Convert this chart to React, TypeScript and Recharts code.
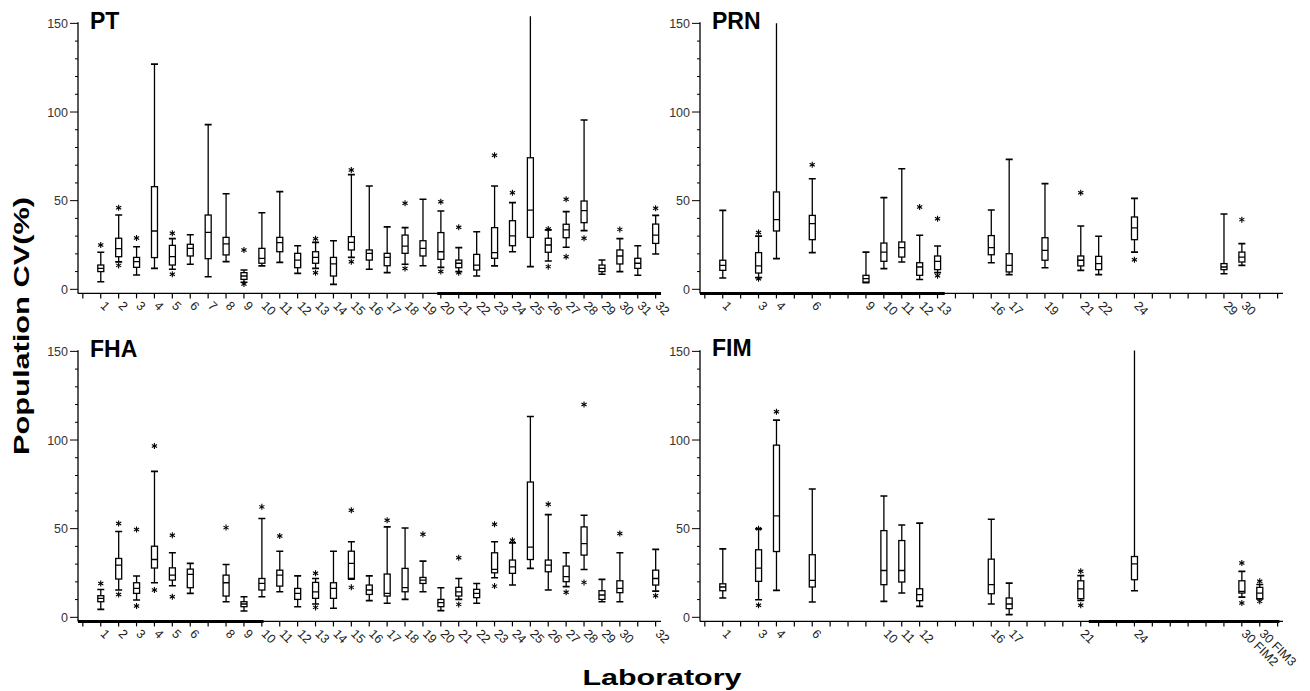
import React from 'react';
import { ComposedChart, Bar, Scatter, XAxis, YAxis, ReferenceLine } from 'recharts';

// box rows: [lab position, whisker low, q1, median, q3, whisker high]
const ptBoxes = [
  [1, 4.3, 10, 11.8, 13.7, 20.9],
  [2, 15.5, 18.4, 23, 28.8, 41.9],
  [3, 8.1, 12.4, 15.6, 18, 24],
  [4, 11.8, 17.9, 32.9, 57.9, 127],
  [5, 11.3, 13.7, 18.4, 24.8, 28.6],
  [6, 14.1, 18.8, 23.1, 25.4, 30.8],
  [7, 7.1, 17.3, 32.1, 41.9, 92.9],
  [8, 15.6, 19.4, 25.6, 29.3, 53.9],
  [9, 4, 5.6, 7.5, 9.4, 10.9],
  [10, 13.2, 14.7, 17.5, 23.1, 43.2],
  [11, 15.2, 21.2, 26.3, 29.3, 55.1],
  [12, 9, 12.2, 16.5, 20.3, 24.6],
  [13, 11.8, 14.7, 18, 21.2, 26.5],
  [14, 2.8, 7.5, 14.3, 18, 27.4],
  [15, 18, 22.2, 26.5, 29.7, 64.7],
  [16, 11.3, 16.5, 20.3, 22.2, 58.3],
  [17, 9.4, 13.3, 18, 20.3, 35.2],
  [18, 14.1, 20.3, 24.4, 30.6, 34.8],
  [19, 13.3, 18.8, 23.1, 27.4, 50.8],
  [20, 12.4, 16.9, 21.2, 32, 44.2],
  [21, 10, 12.2, 14.7, 16.5, 23.5],
  [22, 7.5, 10.9, 13.7, 19.7, 32.5],
  [23, 13.2, 17.5, 20.7, 34.8, 58.3],
  [24, 21.2, 24.6, 30.1, 38.7, 48.9],
  [25, 12.8, 29.3, 44.7, 74.2, 154],
  [26, 16, 20.9, 25, 28.8, 33.5],
  [27, 23.7, 29.1, 33.5, 36.7, 43.8],
  [28, 33.1, 37.6, 44.4, 49.8, 95.5],
  [29, 8.5, 10, 11.8, 13.7, 16.5],
  [30, 10, 14.3, 18.8, 22.2, 28.6],
  [31, 7.9, 11.8, 14.7, 17.5, 24.6],
  [32, 19.9, 25.9, 30.6, 36.8, 41.7],
];
const ptOutliers = [
  [1, 25], [2, 46], [2, 13.5], [3, 29], [5, 31.6], [5, 8.5], [9, 22.2], [9, 3],
  [13, 28.5], [13, 9.4], [15, 67.3], [15, 15.6], [18, 48.5], [18, 11.8], [20, 49.4],
  [20, 10], [21, 35], [21, 9.4], [23, 75.6], [24, 54.5], [26, 34], [26, 12.8],
  [27, 50.8], [27, 18.4], [28, 28.8], [30, 33.8], [32, 45.7],
];

const prnBoxes = [
  [1, 6.4, 10.7, 13.5, 16.4, 44.5],
  [3, 6.6, 9.2, 13.2, 20.7, 30],
  [4, 17.3, 32.9, 39.3, 54.9, 150],
  [6, 20.7, 28, 37, 41.7, 62.4],
  [9, 3.8, 4.1, 6, 7.9, 21],
  [10, 11.7, 15.8, 21, 26.1, 51.7],
  [11, 15.4, 18.2, 23.5, 26.7, 68],
  [12, 5.5, 7.9, 12.6, 15, 30.5],
  [13, 9.4, 11.1, 15.8, 18.8, 24.4],
  [16, 15, 19.5, 23.5, 30.3, 44.7],
  [17, 8.3, 9.8, 13.5, 20.1, 73.3],
  [19, 12.2, 16.4, 22, 29.1, 59.6],
  [21, 10.7, 13.2, 16.4, 18.8, 35.7],
  [22, 8.3, 11.1, 14.5, 18.6, 29.9],
  [24, 21, 28, 34.6, 40.8, 51.3],
  [29, 8.8, 11.1, 12.6, 14.5, 42.5],
  [30, 13.5, 15.4, 18.2, 21, 25.8],
];
const prnOutliers = [
  [3, 32], [3, 6], [6, 70.3], [12, 46.4], [13, 39.8], [13, 7.7], [21, 54.5], [24, 16.7], [30, 39.3],
];

const fhaBoxes = [
  [1, 4.5, 8.8, 10.7, 12.2, 15.7],
  [2, 15.4, 21.6, 29.4, 33.2, 48.4],
  [3, 9.8, 13.5, 16.3, 19.5, 23.3],
  [4, 19.5, 27.8, 32.6, 40.1, 82.3],
  [5, 17.8, 21, 23.8, 27.9, 36.4],
  [6, 13.5, 16.7, 24.2, 27.2, 30.4],
  [8, 8.8, 12, 19.5, 23.8, 29.8],
  [9, 3.6, 6, 7.5, 8.8, 11.6],
  [10, 11.6, 15.4, 19.1, 21.9, 55.7],
  [11, 14.4, 17.6, 23.8, 26.6, 37.3],
  [12, 6, 10.1, 13.5, 16.3, 23.4],
  [13, 7.5, 10.7, 14.4, 19.7, 21.9],
  [14, 5.1, 10.7, 16.3, 19.5, 37.3],
  [15, 21.5, 22, 30.4, 37.3, 42.6],
  [16, 9.4, 12.9, 15.4, 18.2, 23.4],
  [17, 7.9, 12, 13.5, 24.4, 51],
  [18, 10.1, 14.4, 16.7, 27.6, 50.4],
  [19, 14.4, 19.1, 21, 22.5, 31.7],
  [20, 3.8, 6, 8.3, 10.1, 16.7],
  [21, 10.1, 12, 14.4, 16.9, 21.9],
  [22, 7.9, 11.1, 13.5, 15.8, 19.1],
  [23, 22.3, 25.1, 27, 36.4, 42.6],
  [24, 18.2, 24.8, 28.5, 32.3, 42],
  [25, 27.6, 32.6, 39.6, 76.3, 113.3],
  [26, 15.4, 25.7, 29.4, 32.3, 57.9],
  [27, 17.3, 20.1, 22.9, 28.9, 36.4],
  [28, 27, 35.1, 41.6, 51, 57.6],
  [29, 8.8, 10.1, 12.6, 15, 21.4],
  [30, 8.8, 13.9, 16.3, 20.6, 36.4],
  [32, 14.8, 18.2, 21.9, 26.6, 38.3],
];
const fhaOutliers = [
  [1, 19.1], [2, 52.9], [2, 12.9], [3, 49.5], [3, 6.4], [4, 96.6], [4, 15.4], [5, 46.3],
  [5, 11.6], [8, 50.6], [10, 62.3], [11, 45.9], [13, 24.8], [13, 5.6], [15, 60.4],
  [15, 16.9], [17, 54.8], [19, 46.9], [21, 33.6], [21, 7.3], [23, 52.5], [23, 17.6],
  [24, 43.5], [26, 63.8], [27, 14.1], [28, 120], [28, 19.7], [30, 47.3], [32, 12.2],
];

const fimBoxes = [
  [1, 10.9, 15, 17.1, 18.9, 38.6],
  [3, 9.9, 20.3, 27.8, 38.1, 49.9],
  [4, 15.2, 37.1, 57.2, 97.1, 111.2],
  [6, 8.6, 17.1, 20.8, 35.3, 72.4],
  [10, 9, 18.4, 26.4, 48.9, 68.4],
  [11, 13.7, 19.9, 26.4, 43.3, 52.1],
  [12, 6.2, 9.4, 12.8, 16.1, 53.1],
  [16, 7.5, 13.3, 18.4, 32.8, 55.3],
  [17, 1.5, 4.9, 7.5, 10.9, 19.3],
  [21, 9.5, 10.5, 16.1, 20.6, 23.5],
  [24, 15, 21.2, 30.2, 34.3, 150.5],
  [30, 11.4, 13.7, 14.6, 20.6, 25.9],
  [31, 10.3, 10.5, 13.7, 16.9, 18.5],
];
const fimOutliers = [
  [3, 50], [3, 6.8], [4, 115.9], [21, 26], [21, 6.8], [30, 30.6], [30, 8.1], [31, 20.3], [31, 9],
];
// tick label text for positions that are not plain lab numbers
const fimTickNames: Record<number, string> = { 30: '30 FIM2', 31: '30 FIM3' };

const allTicks = Array.from({ length: 33 }, (_, i) => i);
const yTicks = [0, 10, 20, 30, 40, 50, 60, 70, 80, 90, 100, 110, 120, 130, 140, 150];

const X_MIN = -0.27;
const X_MAX = 32.3;
const Y_MIN = -2.3;
const Y_MAX = 155;
const FONT = '"Liberation Sans", Arial, sans-serif';

const BoxShape = (props: any) => {
  const { x, y, width, height, payload } = props;
  if (x == null || y == null || !payload) return null;
  const top = Math.min(y, y + height);
  const bot = Math.max(y, y + height);
  const span = payload.hi - payload.lo;
  const py = (v: number) => bot - ((v - payload.lo) / span) * (bot - top);
  const cx = x + width / 2;
  const bw = 3;
  const cw = 3.5;
  return (
    <g stroke="#000" strokeWidth={1.3} fill="#fff">
      <line x1={cx} x2={cx} y1={py(payload.hi)} y2={py(payload.q3)} />
      <line x1={cx} x2={cx} y1={py(payload.q1)} y2={py(payload.lo)} />
      {payload.hi < 150 && (
        <line x1={cx - cw} x2={cx + cw} y1={py(payload.hi)} y2={py(payload.hi)} strokeWidth={1.6} />
      )}
      <line x1={cx - cw} x2={cx + cw} y1={py(payload.lo)} y2={py(payload.lo)} strokeWidth={1.6} />
      <rect x={cx - bw} y={py(payload.q3)} width={bw * 2} height={py(payload.q1) - py(payload.q3)} />
      <line x1={cx - bw} x2={cx + bw} y1={py(payload.med)} y2={py(payload.med)} />
    </g>
  );
};

const StarShape = (props: any) => {
  const { cx, cy } = props;
  if (cx == null || cy == null) return null;
  const r = 3;
  return (
    <g stroke="#000" strokeWidth={1.1}>
      <line x1={cx} y1={cy - r} x2={cx} y2={cy + r} />
      <line x1={cx - 2.6} y1={cy - 1.5} x2={cx + 2.6} y2={cy + 1.5} />
      <line x1={cx - 2.6} y1={cy + 1.5} x2={cx + 2.6} y2={cy - 1.5} />
    </g>
  );
};

const YTick = (props: any) => {
  const { x, y, payload } = props;
  const major = payload.value % 50 === 0;
  return (
    <g>
      <line x1={x - (major ? 8 : 3)} x2={x} y1={y} y2={y} stroke="#000" strokeWidth={1} />
      {major && (
        <text x={x - 10} y={y + 4.5} textAnchor="end" fontSize={12.5} fontFamily={FONT} fill="#333">
          {payload.value}
        </text>
      )}
    </g>
  );
};

const makeXTick = (present: Set<number>, names: Record<number, string>) => (props: any) => {
  const { x, y, payload } = props;
  const v = payload.value;
  if (!present.has(v)) return null;
  const label = names[v] ?? String(v);
  return (
    <g transform={`translate(${x - 1},${y + 8})`}>
      <text transform="rotate(45)" textAnchor="start" fontSize={12.5} fontFamily={FONT} fill="#222">
        {label}
      </text>
    </g>
  );
};

type PanelProps = {
  left: number;
  top: number;
  boxes: number[][];
  outliers: number[][];
  names?: Record<number, string>;
  thick: [number, number];
};

const Panel = ({ left, top, boxes, outliers, names = {}, thick }: PanelProps) => {
  const data = boxes.map(([pos, lo, q1, med, q3, hi]) => ({ pos, lo, q1, med, q3, hi }));
  const outData = outliers.map(([pos, v]) => ({ pos, v }));
  const present = new Set(boxes.map((b) => b[0]));
  return (
    <div style={{ position: 'absolute', left, top }}>
      <ComposedChart width={700} height={360} data={data} margin={{ top: 14.5, right: 39, bottom: 36.6, left: 38 }}>
        <XAxis
          type="number"
          dataKey="pos"
          domain={[X_MIN, X_MAX]}
          ticks={allTicks}
          interval={0}
          allowDataOverflow
          tickSize={5}
          tickMargin={0}
          height={30}
          axisLine={{ stroke: '#000', strokeWidth: 1.3 }}
          tickLine={{ stroke: '#000', strokeWidth: 1.2 }}
          tick={makeXTick(present, names)}
        />
        <YAxis
          type="number"
          domain={[Y_MIN, Y_MAX]}
          ticks={yTicks}
          interval={0}
          allowDataOverflow
          width={40}
          tickSize={0}
          tickMargin={0}
          axisLine={false}
          tickLine={false}
          tick={<YTick />}
        />
        <ReferenceLine
          segment={[{ x: X_MIN, y: Y_MIN }, { x: X_MIN, y: 150.6 }]}
          stroke="#000"
          strokeWidth={1.3}
          ifOverflow="visible"
        />
        <ReferenceLine
          segment={[{ x: thick[0], y: Y_MIN }, { x: thick[1], y: Y_MIN }]}
          stroke="#000"
          strokeWidth={3}
          ifOverflow="visible"
        />
        <Bar dataKey={(d: any) => [d.lo, d.hi]} barSize={8} shape={BoxShape} isAnimationActive={false} />
        <Scatter data={outData} dataKey="v" shape={StarShape} isAnimationActive={false} />
      </ComposedChart>
    </div>
  );
};

const titleStyle = { fontFamily: FONT, fontWeight: 700, fontSize: 23, fill: '#000' } as const;

export default function App() {
  return (
    <div style={{ position: 'absolute', left: 0, top: 0, width: 1310, height: 691, background: '#fff', overflow: 'hidden' }}>
      <Panel left={0} top={0} boxes={ptBoxes} outliers={ptOutliers} thick={[19.8, X_MAX]} />
      <Panel left={622} top={0} boxes={prnBoxes} outliers={prnOutliers} thick={[X_MIN, 13.4]} />
      <Panel left={0} top={328} boxes={fhaBoxes} outliers={fhaOutliers} thick={[X_MIN, 10.1]} />
      <Panel left={622} top={328} boxes={fimBoxes} outliers={fimOutliers} names={fimTickNames} thick={[21.45, 32.1]} />
      <svg width={1310} height={691} style={{ position: 'absolute', left: 0, top: 0, pointerEvents: 'none' }}>
        <text x={90} y={28.5} {...titleStyle}>PT</text>
        <text x={712} y={28.5} {...titleStyle}>PRN</text>
        <text x={90} y={357} {...titleStyle}>FHA</text>
        <text x={712} y={356} {...titleStyle}>FIM</text>
        <text
          x={29}
          y={326}
          transform="rotate(-90, 29, 326)"
          textAnchor="middle"
          textLength={258}
          lengthAdjust="spacingAndGlyphs"
          {...titleStyle}
          fontSize={22}
        >
          Population CV(%)
        </text>
        <text x={662} y={685} textAnchor="middle" textLength={159} lengthAdjust="spacingAndGlyphs" {...titleStyle} fontSize={22}>
          Laboratory
        </text>
      </svg>
    </div>
  );
}
